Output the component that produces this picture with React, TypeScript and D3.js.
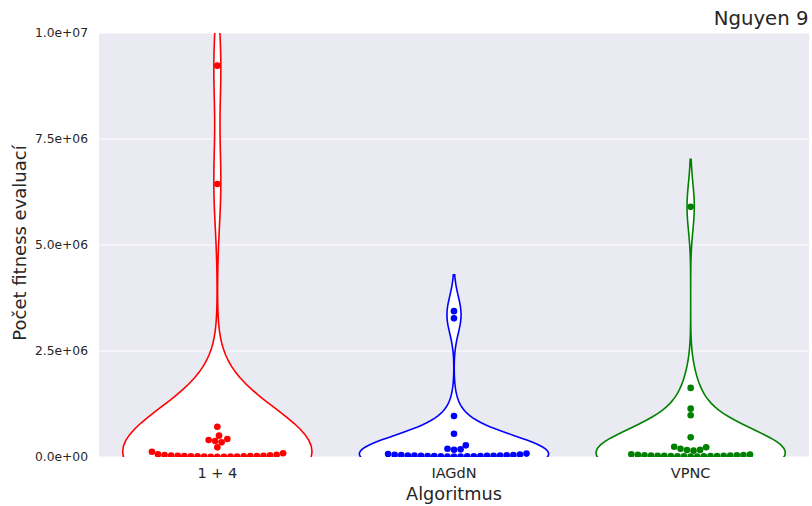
import React from "react";
import * as d3 from "d3";

const categories = ["1 + 4", "IAGdN", "VPNC"];
const colors = ["#ff0000", "#0000ff", "#008000"];

const seriesA = [
  3000, 5000, 7000, 9000, 11000, 13000, 15000, 17000, 19000, 21000, 23000,
  25000, 28000, 31000, 35000, 40000, 46000, 54000, 64000, 90000, 125000,
  228000, 346000, 377000, 400000, 425000, 503000, 715000, 6440000, 9230000,
];
const seriesB = [
  8000, 10000, 12000, 14000, 16000, 18000, 20000, 22000, 24000, 26000, 28000,
  30000, 32000, 34000, 37000, 40000, 44000, 48000, 53000, 60000, 70000, 80000,
  172000, 180000, 196000, 275000, 550000, 967000, 3270000, 3440000,
];
const seriesC = [
  10000, 12000, 14000, 16000, 18000, 20000, 22000, 24000, 26000, 28000, 30000,
  32000, 35000, 38000, 41000, 45000, 50000, 55000, 62000,
  150000, 165000, 168000, 195000, 230000, 240000, 465000, 983000, 1140000,
  1630000, 5900000,
];
const allSeries = [seriesA, seriesB, seriesC];

const yTicks = [0, 2500000, 5000000, 7500000, 10000000];
const yTickLabels = ["0.0e+00", "2.5e+06", "5.0e+06", "7.5e+06", "1.0e+07"];

const title = "Nguyen 9";
const xLabel = "Algoritmus";
const yLabel = "Počet fitness evaluací";

const W = 812;
const H = 506;
const left = 99;
const right = 809;
const top = 33;
const bottom = 457;
const FONT = "DejaVu Sans, sans-serif";

function kde(values: number[]) {
  const n = values.length;
  const mean = d3.mean(values)!;
  const sd = Math.sqrt(d3.sum(values, (v) => (v - mean) ** 2) / (n - 1));
  const bw = sd * Math.pow(n, -1 / 5);
  const lo = d3.min(values)! - 2 * bw;
  const hi = d3.max(values)! + 2 * bw;
  const grid = d3.range(100).map((i) => lo + ((hi - lo) * i) / 99);
  const dens = grid.map((g) =>
    d3.sum(values, (v) => Math.exp(-0.5 * ((g - v) / bw) ** 2))
  );
  const mx = d3.max(dens)!;
  return grid.map((g, i) => ({ y: g, d: dens[i] / mx }));
}

function swarm(ys: number[], diam: number) {
  const idx = d3.range(ys.length).sort((a, b) => ys[b] - ys[a]);
  const placed: { x: number; y: number }[] = [];
  const out = new Array(ys.length).fill(0);
  for (const i of idx) {
    const y = ys[i];
    const nb = placed.filter((p) => Math.abs(p.y - y) < diam);
    const cands = [0];
    for (const p of nb) {
      const dx = Math.sqrt(diam * diam - (p.y - y) ** 2);
      cands.push(p.x + dx, p.x - dx);
    }
    const ok = cands.filter((c) =>
      nb.every((p) => (c - p.x) ** 2 + (y - p.y) ** 2 >= diam * diam - 1e-6)
    );
    ok.sort((a, b) => Math.abs(a) - Math.abs(b));
    const x = ok[0];
    placed.push({ x, y });
    out[i] = x;
  }
  return out;
}

export default function App() {
  const x = d3.scaleBand().domain(categories).range([left, right]).padding(0);
  const y = d3.scaleLinear().domain([0, 10000000]).range([bottom, top]);
  const half = x.bandwidth() * 0.4;

  return (
    <svg width={W} height={H} style={{ display: "block", position: "absolute", left: 0, top: 0 }}>
      <defs>
        <clipPath id="plotclip">
          <rect x={left} y={top} width={right - left} height={bottom - top} />
        </clipPath>
      </defs>
      <rect x={0} y={0} width={W} height={H} fill="#ffffff" />
      <rect x={left} y={top} width={right - left} height={bottom - top} fill="#eaeaf2" />
      {yTicks.map((t) => (
        <line key={t} x1={left} x2={right} y1={y(t)} y2={y(t)} stroke="#ffffff" strokeWidth={1} />
      ))}
      <g clipPath="url(#plotclip)">
        {categories.map((c, ci) => {
          const cx = x(c)! + x.bandwidth() / 2;
          const k = kde(allSeries[ci]);
          const pts: [number, number][] = [
            ...k.map((p) => [cx + p.d * half, y(p.y)] as [number, number]),
            ...k
              .slice()
              .reverse()
              .map((p) => [cx - p.d * half, y(p.y)] as [number, number]),
          ];
          const path = d3.line()(pts) + "Z";
          return (
            <path key={c} d={path} fill="#ffffff" stroke={colors[ci]} strokeWidth={1.6} />
          );
        })}
        {categories.map((c, ci) => {
          const cx = x(c)! + x.bandwidth() / 2;
          const ys = allSeries[ci].map((v) => y(v));
          const offs = swarm(ys, 6.6);
          return (
            <g key={c}>
              {ys.map((yy, i) => (
                <circle key={i} cx={cx + offs[i]} cy={yy} r={3.3} fill={colors[ci]} />
              ))}
            </g>
          );
        })}
      </g>
      {yTicks.map((t, i) => (
        <text
          key={t}
          x={88}
          y={y(t)}
          dy="0.35em"
          textAnchor="end"
          fontFamily={FONT}
          fontSize={12.3}
          fill="#262626"
        >
          {yTickLabels[i]}
        </text>
      ))}
      {categories.map((c) => (
        <text
          key={c}
          x={x(c)! + x.bandwidth() / 2}
          y={478}
          textAnchor="middle"
          fontFamily={FONT}
          fontSize={14.5}
          fill="#262626"
        >
          {c}
        </text>
      ))}
      <text
        x={(left + right) / 2}
        y={500}
        textAnchor="middle"
        fontFamily={FONT}
        fontSize={17.7}
        fill="#262626"
      >
        {xLabel}
      </text>
      <text
        transform={`translate(26,243) rotate(-90)`}
        textAnchor="middle"
        fontFamily={FONT}
        fontSize={18}
        fill="#262626"
      >
        {yLabel}
      </text>
      <text
        x={808.5}
        y={25}
        textAnchor="end"
        fontFamily={FONT}
        fontSize={19.7}
        fill="#262626"
      >
        {title}
      </text>
    </svg>
  );
}
